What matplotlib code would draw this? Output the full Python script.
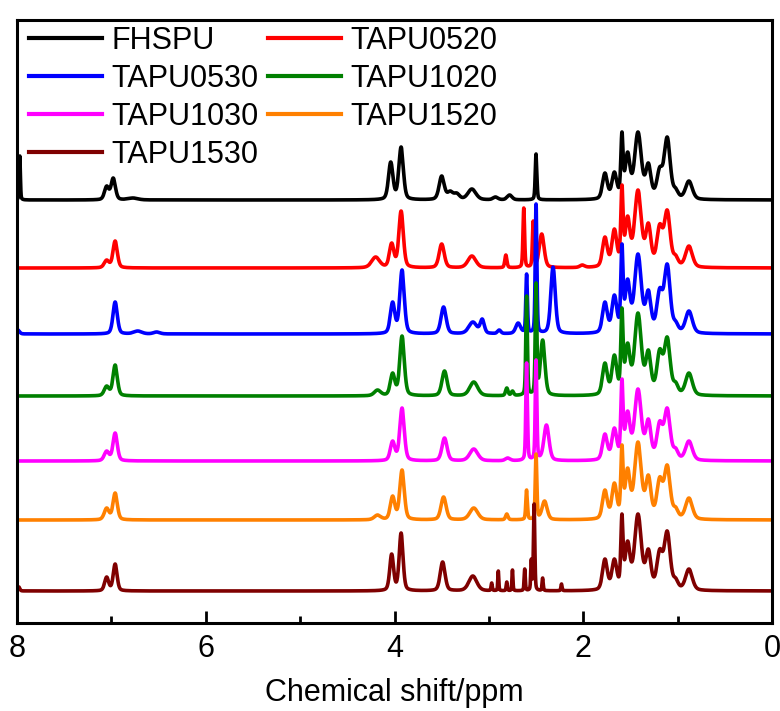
import numpy as np
import matplotlib
matplotlib.use("Agg")
import matplotlib.pyplot as plt

plt.rcParams['font.family'] = ['Liberation Sans', 'DejaVu Sans']

# ---------------- data (peak lists) ----------------
labels = ["FHSPU", "TAPU0520", "TAPU0530", "TAPU1020", "TAPU1030", "TAPU1520", "TAPU1530"]
colors = ["#000000", "#FF0000", "#0000FF", "#008000", "#FF00FF", "#FF8000", "#7F0000"]

ali_ppm = [1.77, 1.67, 1.59, 1.53, 1.42, 1.31, 1.19, 1.11, 1.02, 0.88]
ali_hw = [0.03, 0.03, 0.014, 0.03, 0.042, 0.032, 0.035, 0.037, 0.03, 0.042]

fhspu_ppm = [7.97, 7.05, 6.98, 6.77, 4.04, 3.93, 3.50, 3.41, 3.34, 3.18, 2.93, 2.78, 2.50]
fhspu_int = [44, 14, 22, 2, 38, 53, 24, 9, 7, 11, 3, 5, 46]
fhspu_hw = [0.007, 0.027, 0.027, 0.06, 0.028, 0.028, 0.032, 0.035, 0.035, 0.05, 0.03, 0.03, 0.01]
fhspu_ali = [27, 28, 68, 48, 68, 37, 33, 63, 12, 19]

t0520_ppm = [7.05, 6.96, 4.20, 4.03, 3.93, 3.50, 3.18, 2.82, 2.63, 2.53, 2.44, 2.01]
t0520_int = [8, 27, 11, 25, 57, 24, 12, 13, 60, 47, 34, 3]
t0520_hw = [0.03, 0.027, 0.05, 0.028, 0.028, 0.032, 0.05, 0.013, 0.01, 0.01, 0.03, 0.03]
t0520_ali = [31, 39, 83, 52, 78, 45, 44, 58, 13, 22]

t0530_ppm = [7.99, 6.96, 6.72, 6.52, 4.02, 3.92, 3.48, 3.17, 3.07, 2.89, 2.69, 2.60, 2.50, 2.32]
t0530_int = [4, 32, 3, 2, 32, 64, 27, 12, 15, 4, 11, 60, 130, 67]
t0530_hw = [0.02, 0.027, 0.05, 0.04, 0.028, 0.028, 0.032, 0.05, 0.025, 0.02, 0.03, 0.01, 0.01, 0.028]
t0530_ali = [32, 39, 90, 55, 80, 44, 46, 70, 13, 23]

t1020_ppm = [7.05, 6.96, 4.18, 4.02, 3.92, 3.47, 3.16, 2.81, 2.75, 2.60, 2.50, 2.43]
t1020_int = [10, 31, 6, 23, 60, 25, 14, 8, 5, 100, 113, 56]
t1020_hw = [0.03, 0.027, 0.04, 0.028, 0.028, 0.032, 0.05, 0.015, 0.015, 0.01, 0.01, 0.028]
t1020_ali = [33, 41, 88, 53, 83, 46, 47, 59, 14, 23]

t1030_ppm = [7.05, 6.96, 4.02, 3.92, 3.47, 3.16, 2.80, 2.60, 2.50, 2.39]
t1030_int = [10, 28, 20, 53, 23, 12, 3, 98, 101, 36]
t1030_hw = [0.03, 0.027, 0.028, 0.028, 0.032, 0.05, 0.03, 0.01, 0.01, 0.032]
t1030_ali = [27, 33, 82, 50, 72, 42, 40, 53, 13, 20]

t1520_ppm = [7.05, 6.96, 4.18, 4.02, 3.92, 3.48, 3.16, 2.81, 2.60, 2.50, 2.41]
t1520_int = [12, 27, 5, 24, 50, 23, 12, 6, 30, 66, 19]
t1520_hw = [0.03, 0.027, 0.04, 0.028, 0.028, 0.032, 0.05, 0.015, 0.01, 0.01, 0.032]
t1520_ali = [30, 37, 75, 52, 78, 45, 43, 55, 13, 22]

t1530_ppm = [7.98, 7.05, 6.96, 4.03, 3.93, 3.49, 3.17, 2.97, 2.90, 2.81, 2.75, 2.62, 2.55, 2.52, 2.43, 2.23]
t1530_int = [4, 14, 27, 37, 58, 29, 15, 8, 20, 9, 21, 22, 32, 87, 13, 7]
t1530_hw = [0.012, 0.025, 0.024, 0.024, 0.024, 0.03, 0.05, 0.007, 0.006, 0.007, 0.006, 0.007, 0.007, 0.008, 0.007, 0.007]
t1530_ali = [32, 32, 77, 50, 77, 42, 42, 60, 13, 22]

offsets = [423, 355, 289, 227, 162, 103, 32]

series = [
    (fhspu_ppm, fhspu_int, fhspu_hw, fhspu_ali),
    (t0520_ppm, t0520_int, t0520_hw, t0520_ali),
    (t0530_ppm, t0530_int, t0530_hw, t0530_ali),
    (t1020_ppm, t1020_int, t1020_hw, t1020_ali),
    (t1030_ppm, t1030_int, t1030_hw, t1030_ali),
    (t1520_ppm, t1520_int, t1520_hw, t1520_ali),
    (t1530_ppm, t1530_int, t1530_hw, t1530_ali),
]

x = np.linspace(0, 8, 8001)
ETA = 0.35  # Lorentzian fraction of the pseudo-Voigt line shape


def shape(xx, c, g):
    lo = g ** 2 / ((xx - c) ** 2 + g ** 2)
    ga = np.exp(-np.log(2) * ((xx - c) / g) ** 2)
    return ETA * lo + (1 - ETA) * ga


def spectrum(ppm, inten, hw):
    ppm = np.asarray(ppm, float)
    inten = np.asarray(inten, float)
    hw = np.asarray(hw, float)
    M = shape(ppm[:, None], ppm[None, :], hw[None, :])
    amp = np.linalg.solve(M, inten)
    amp = np.clip(amp, 0, None)
    return (amp[None, :] * shape(x[:, None], ppm[None, :], hw[None, :])).sum(axis=1)


fig = plt.figure(figsize=(7.8, 7.11), dpi=100)
ax = fig.add_axes([17 / 780, 88 / 711, 755 / 780, 603 / 711])

handles = []
for (p, it, hw, al), off, c, lab in zip(series, offsets, colors, labels):
    y = spectrum(list(p) + ali_ppm, list(it) + al, list(hw) + ali_hw)
    h, = ax.plot(x, y + off, color=c, lw=2.6, label=lab, solid_joinstyle='round')
    handles.append(h)

ax.set_xlim(8, 0)
ax.set_ylim(0, 603)
ax.set_yticks([])
ax.set_xticks([8, 6, 4, 2, 0])
ax.set_xticks([7, 5, 3, 1], minor=True)
ax.set_xticklabels(["8", "6", "4", "2", "0"])
ax.tick_params(axis='x', which='major', direction='in', length=9, width=2, labelsize=22, pad=8)
ax.tick_params(axis='x', which='minor', direction='in', length=5, width=2)
for s in ax.spines.values():
    s.set_linewidth(2.2)
ax.set_xlabel("Chemical shift/ppm", fontsize=22, labelpad=10)

order = [0, 2, 4, 6, 1, 3, 5]
leg = ax.legend([handles[i] for i in order], [labels[i] for i in order], ncol=2,
                loc='upper left', bbox_to_anchor=(0.012, 0.995), frameon=False,
                fontsize=22, handlelength=2.4, handletextpad=0.3, columnspacing=0.3,
                labelspacing=0.26, borderaxespad=0, borderpad=0.1)
for ln in leg.get_lines():
    ln.set_linewidth(3.0)

fig.savefig("out.png", dpi=100)
